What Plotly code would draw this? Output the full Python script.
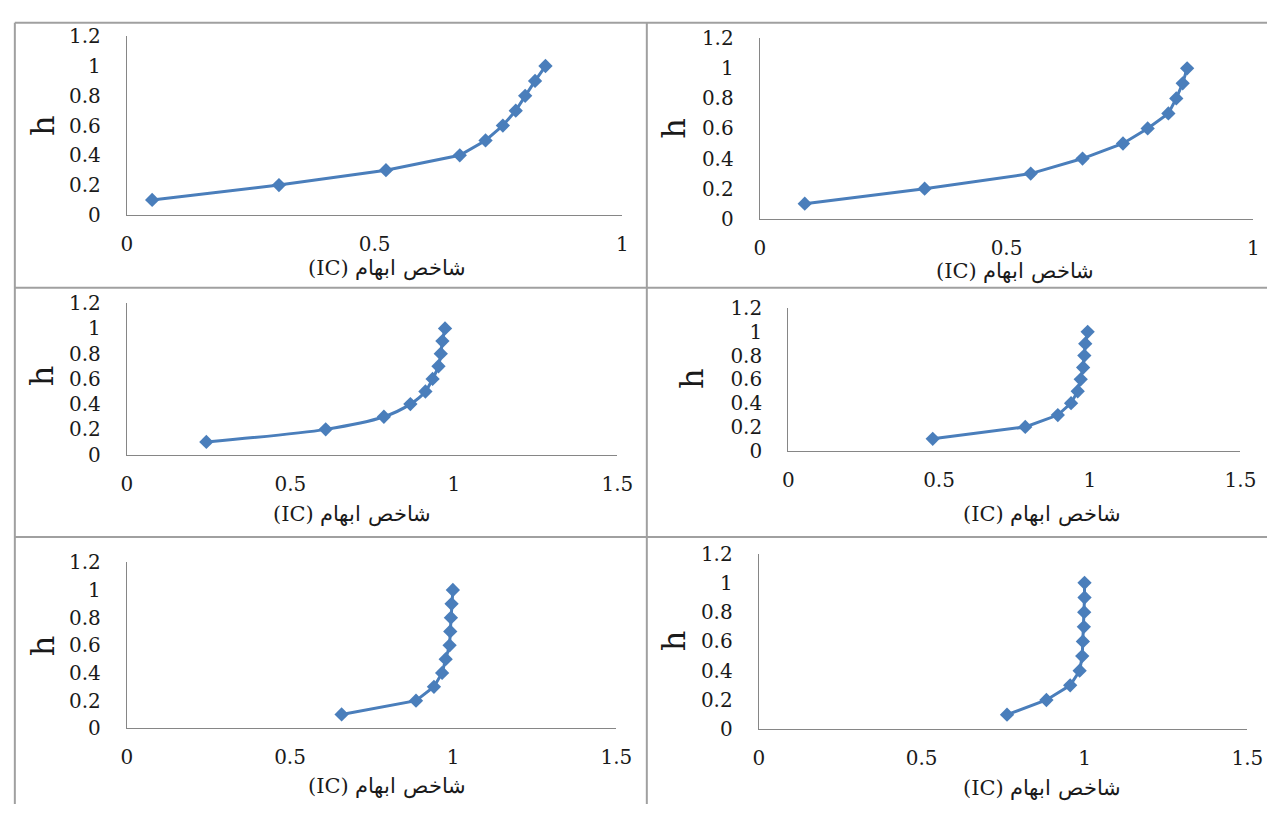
import plotly.graph_objects as go

W, H = 1283, 816

# ---- data ----
h_levels = [0.1, 0.2, 0.3, 0.4, 0.5, 0.6, 0.7, 0.8, 0.9, 1.0]
ic_panel1 = [0.051, 0.307, 0.523, 0.672, 0.724, 0.759, 0.785, 0.804, 0.824, 0.845]
ic_panel2 = [0.091, 0.334, 0.549, 0.654, 0.736, 0.786, 0.828, 0.844, 0.857, 0.866]
ic_panel3 = [0.243, 0.608, 0.786, 0.867, 0.913, 0.935, 0.953, 0.960, 0.965, 0.973]
ic_panel4 = [0.479, 0.786, 0.894, 0.938, 0.960, 0.970, 0.978, 0.982, 0.985, 0.993]
ic_panel5 = [0.658, 0.886, 0.941, 0.966, 0.977, 0.989, 0.991, 0.993, 0.995, 0.999]
ic_panel6 = [0.762, 0.883, 0.956, 0.985, 0.993, 0.995, 0.998, 0.999, 1.000, 1.000]

y_ticks = [0, 0.2, 0.4, 0.6, 0.8, 1.0, 1.2]
y_tick_labels = ["0", "0.2", "0.4", "0.6", "0.8", "1", "1.2"]
x_ticks_a = [0, 0.5, 1]
x_tick_labels_a = ["0", "0.5", "1"]
x_ticks_b = [0, 0.5, 1, 1.5]
x_tick_labels_b = ["0", "0.5", "1", "1.5"]

# visual order as in the reference: "(IC)" on the left of the Persian words
x_title = "(IC) شاخص ابهام"
y_title = "h"

series = [ic_panel1, ic_panel2, ic_panel3, ic_panel4, ic_panel5, ic_panel6]

# ---- layout (pixel geometry) ----
# (x0, x1, y_bottom(0), y_top(1.2), xmax, xtitle_x, xtitle_y, htitle_x, htitle_y, shape)
panels = [
    (123, 627, 209, 25, 1.0, 388, 264, 37, 117, "linear"),
    (767, 1269, 213, 27, 1.0, 1027, 267, 680, 120, "linear"),
    (123, 622, 456, 300, 1.5, 352, 518, 37, 375, "spline"),
    (796, 1256, 452, 305, 1.5, 1054, 518, 698, 378, "linear"),
    (123, 621, 738, 567, 1.5, 388, 798, 37, 653, "linear"),
    (766, 1263, 739, 558, 1.5, 1054, 800, 680, 648, "linear"),
]

BLUE = "#4A7EBB"
AXIS = "#868686"
TICKFONT = "DejaVu Serif, Liberation Serif, serif"
TXT = "#1a1a1a"

fig = go.Figure()
annotations = []
layout_axes = {}

for i, (vals, p) in enumerate(zip(series, panels), start=1):
    x0, x1, yb, yt, xmax, tx, ty, hx, hy, shape = p
    xa = "x" if i == 1 else f"x{i}"
    ya = "y" if i == 1 else f"y{i}"
    fig.add_trace(go.Scatter(
        x=vals, y=h_levels, mode="lines+markers",
        line=dict(color=BLUE, width=3, shape=shape, smoothing=0.8),
        marker=dict(symbol="diamond", size=11, color=BLUE),
        xaxis=xa, yaxis=ya, showlegend=False, cliponaxis=False,
    ))
    xt = x_ticks_a if xmax == 1.0 else x_ticks_b
    xtl = x_tick_labels_a if xmax == 1.0 else x_tick_labels_b
    xkey = "xaxis" if i == 1 else f"xaxis{i}"
    ykey = "yaxis" if i == 1 else f"yaxis{i}"
    layout_axes[xkey] = dict(
        domain=[x0 / W, x1 / W], range=[0, xmax], anchor=ya,
        showgrid=False, zeroline=False, showline=True, linecolor=AXIS, linewidth=1.3,
        tickvals=xt, ticktext=xtl, ticks="outside", ticklen=11,
        tickcolor="rgba(0,0,0,0)", tickfont=dict(family=TICKFONT, size=20, color=TXT),
        fixedrange=True,
    )
    layout_axes[ykey] = dict(
        domain=[1 - yb / H, 1 - yt / H], range=[0, 1.2], anchor=xa,
        showgrid=False, zeroline=False, showline=True, linecolor=AXIS, linewidth=1.3,
        tickvals=y_ticks, ticktext=y_tick_labels, ticks="outside", ticklen=21,
        tickcolor="rgba(0,0,0,0)", tickfont=dict(family=TICKFONT, size=20, color=TXT),
        fixedrange=True,
    )
    annotations.append(dict(
        text=x_title, x=tx / W, y=1 - ty / H, xref="paper", yref="paper",
        showarrow=False, xanchor="center", yanchor="middle",
        font=dict(family="DejaVu Serif, Liberation Serif, serif", size=21, color=TXT),
    ))
    annotations.append(dict(
        text=y_title, x=hx / W, y=1 - hy / H, xref="paper", yref="paper",
        showarrow=False, xanchor="center", yanchor="middle", textangle=-90,
        font=dict(family=TICKFONT, size=32, color=TXT),
    ))

# table cell borders
BORDER = "#A0A0A0"
shapes = [
    dict(type="line", xref="paper", yref="paper", x0=9 / W, x1=9 / W, y0=0, y1=1 - 11 / H,
         line=dict(color=BORDER, width=2)),
    dict(type="line", xref="paper", yref="paper", x0=9 / W, x1=1, y0=1 - 11 / H, y1=1 - 11 / H,
         line=dict(color=BORDER, width=2)),
    dict(type="line", xref="paper", yref="paper", x0=652 / W, x1=652 / W, y0=0, y1=1 - 11 / H,
         line=dict(color=BORDER, width=2)),
    dict(type="line", xref="paper", yref="paper", x0=9 / W, x1=1, y0=1 - 284 / H, y1=1 - 284 / H,
         line=dict(color=BORDER, width=2)),
    dict(type="line", xref="paper", yref="paper", x0=9 / W, x1=1, y0=1 - 541 / H, y1=1 - 541 / H,
         line=dict(color=BORDER, width=2)),
]

fig.update_layout(
    width=W, height=H,
    margin=dict(l=0, r=0, t=0, b=0),
    paper_bgcolor="white", plot_bgcolor="white",
    annotations=annotations, shapes=shapes,
    **layout_axes,
)

post = (
    "document.documentElement.style.margin='0';"
    "document.body.style.margin='0';"
    "document.documentElement.style.overflow='hidden';"
    "document.body.style.overflow='hidden';"
    "var d=document.getElementById('{plot_id}');"
    "d.style.position='absolute';d.style.left='0px';d.style.top='0px';"
)

fig.write_html("out.html", config={"displayModeBar": False}, post_script=post)
